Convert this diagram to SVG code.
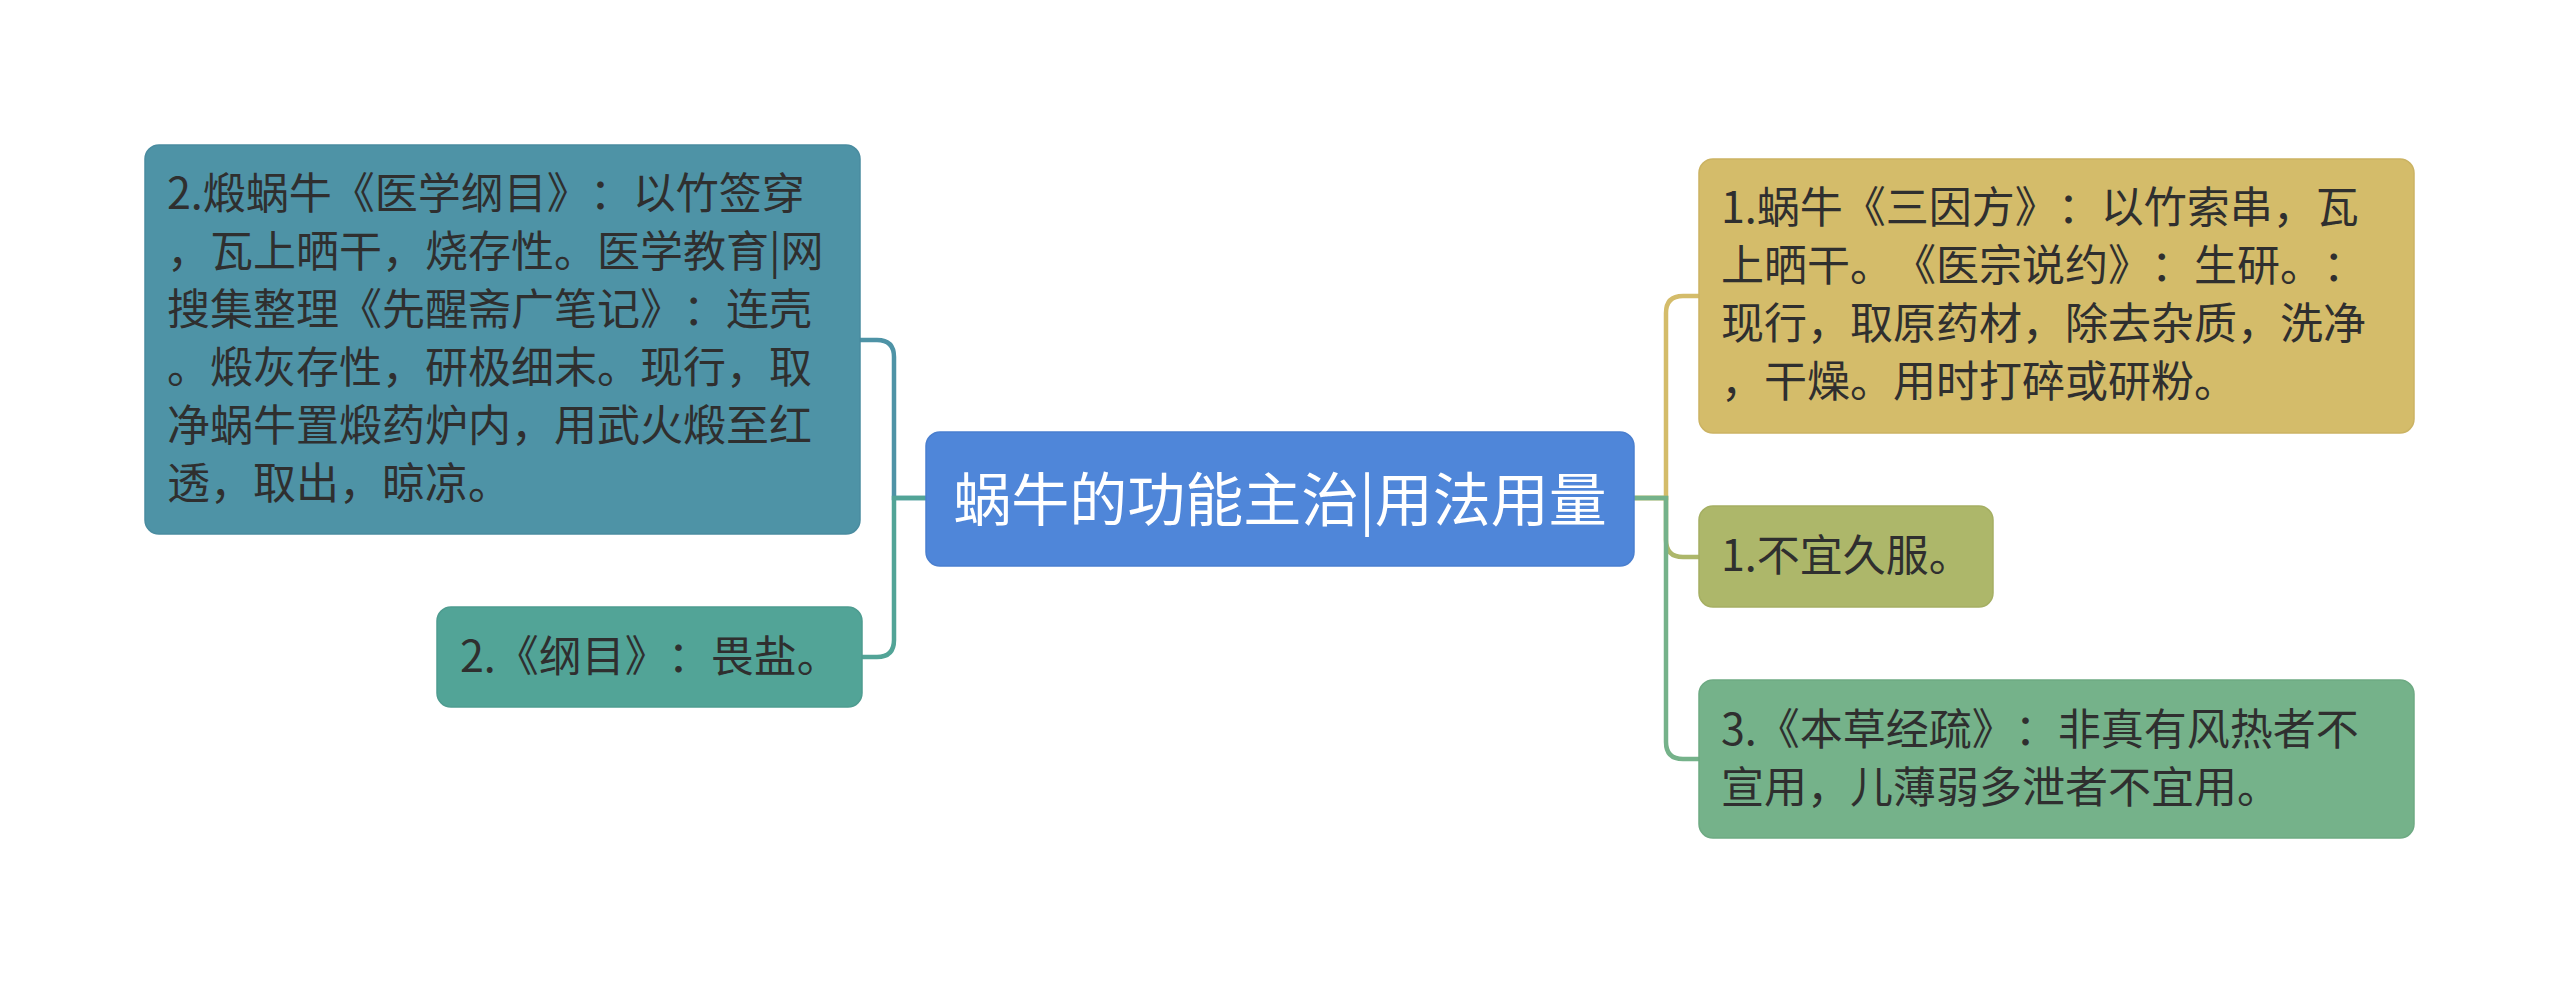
<svg xmlns="http://www.w3.org/2000/svg" width="2560" height="983" viewBox="0 0 2560 983">
<style>
text{text-spacing-trim:space-all}
.t{font-family:"Noto Sans CJK SC","Noto Sans",sans-serif;font-size:43px;fill:#2f2f2f}
.c{font-family:"Noto Sans CJK SC","Noto Sans",sans-serif;font-size:58px;fill:#ffffff}
.ln{fill:none;stroke-width:4.5;stroke-linecap:round}
</style>
<rect width="2560" height="983" fill="#ffffff"/>
<g id="connectors">
<path class="ln" stroke="#4e93a6" d="M926,498 H894 V357 Q894,340 877,340 H860"/>
<path class="ln" stroke="#52a497" d="M926,498 H894 V640 Q894,657 877,657 H860"/>
<path class="ln" stroke="#d4bc6a" d="M1634,498 H1666 V313 Q1666,296 1683,296 H1699"/>
<path class="ln" stroke="#adb76a" d="M1634,498 H1666 V540 Q1666,557 1683,557 H1699"/>
<path class="ln" stroke="#75b28a" d="M1634,498 H1666 V742 Q1666,759 1683,759 H1699"/>
</g>
<g id="center">
<rect x="926" y="432" width="708" height="134" rx="14" fill="#4f86d9" stroke="#4a7fcf" stroke-width="1.5"/>
<text class="c" x="1280" y="521" text-anchor="middle">蜗牛的功能主治|用法用量</text>
</g>
<g id="left1">
<rect x="145" y="145" width="715" height="389" rx="14" fill="#4e93a6" stroke="#4a8ca0" stroke-width="1.5"/>
<text class="t"><tspan x="167" y="209">2.煅蜗牛《医学纲目》：以竹签穿</tspan><tspan x="167" y="267">，瓦上晒干，烧存性。医学教育|网</tspan><tspan x="167" y="325">搜集整理《先醒斋广笔记》：连壳</tspan><tspan x="167" y="383">。煅灰存性，研极细末。现行，取</tspan><tspan x="167" y="441">净蜗牛置煅药炉内，用武火煅至红</tspan><tspan x="167" y="499">透，取出，晾凉。</tspan></text>
</g>
<g id="left2">
<rect x="437" y="607" width="425" height="100" rx="14" fill="#52a497" stroke="#4e9c90" stroke-width="1.5"/>
<text class="t" x="460" y="672">2.《纲目》：畏盐。</text>
</g>
<g id="right1">
<rect x="1699" y="159" width="715" height="274" rx="14" fill="#d4bc6a" stroke="#cbb363" stroke-width="1.5"/>
<text class="t"><tspan x="1721" y="223">1.蜗牛《三因方》：以竹索串，瓦</tspan><tspan x="1721" y="281">上晒干。《医宗说约》：生研。：</tspan><tspan x="1721" y="339">现行，取原药材，除去杂质，洗净</tspan><tspan x="1721" y="397">，干燥。用时打碎或研粉。</tspan></text>
</g>
<g id="right2">
<rect x="1699" y="506" width="294" height="101" rx="14" fill="#adb76a" stroke="#a5af63" stroke-width="1.5"/>
<text class="t" x="1721" y="571">1.不宜久服。</text>
</g>
<g id="right3">
<rect x="1699" y="680" width="715" height="158" rx="14" fill="#75b28a" stroke="#6eaa83" stroke-width="1.5"/>
<text class="t"><tspan x="1721" y="745">3.《本草经疏》：非真有风热者不</tspan><tspan x="1721" y="803">宣用，儿薄弱多泄者不宜用。</tspan></text>
</g>
</svg>
